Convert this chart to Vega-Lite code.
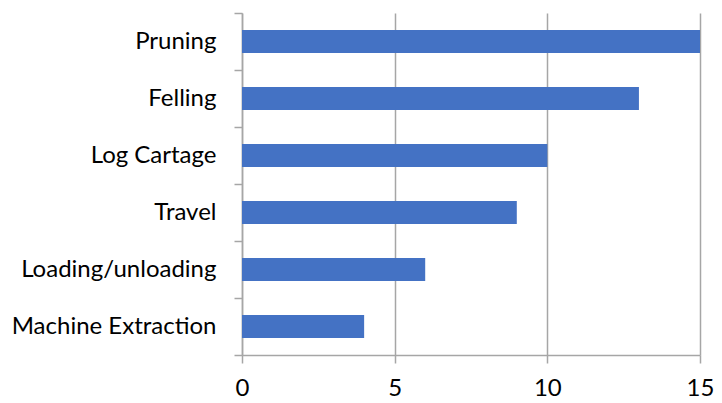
{
  "$schema": "https://vega.github.io/schema/vega-lite/v6.json",
  "width": 458,
  "height": 342,
  "autosize": {"type": "none"},
  "padding": {"left": 242, "top": 13, "right": 22, "bottom": 48},
  "background": "white",
  "data": {"values": [
    {"task": "Pruning", "value": 15},
    {"task": "Felling", "value": 13},
    {"task": "Log Cartage", "value": 10},
    {"task": "Travel", "value": 9},
    {"task": "Loading/unloading", "value": 6},
    {"task": "Machine Extraction", "value": 4}
  ]},
  "mark": {"type": "bar", "color": "#4472C4", "height": {"band": 0.4}},
  "encoding": {
    "y": {
      "field": "task", "type": "nominal", "sort": null, "title": null,
      "scale": {"paddingInner": 0, "paddingOuter": 0},
      "axis": {
        "tickBand": "extent", "tickSize": 8, "tickColor": "#A6A6A6", "domainColor": "#A6A6A6",
        "labelFont": "Lato", "labelFontSize": 24, "labelColor": "#000000", "labelPadding": 18,
        "labelLimit": 400,
        "grid": false, "domainWidth": 1.5, "tickWidth": 1.5
      }
    },
    "x": {
      "field": "value", "type": "quantitative", "title": null,
      "scale": {"domain": [0, 15], "nice": false},
      "axis": {
        "values": [0, 5, 10, 15], "grid": true, "gridColor": "#A6A6A6", "gridWidth": 1.5,
        "tickSize": 8, "tickColor": "#A6A6A6", "domainColor": "#A6A6A6", "domainWidth": 1.5, "tickWidth": 1.5,
        "labelFont": "Lato", "labelFontSize": 24, "labelColor": "#000000", "labelPadding": 13,
        "labelFlush": false
      }
    }
  },
  "config": {"view": {"stroke": null}}
}
